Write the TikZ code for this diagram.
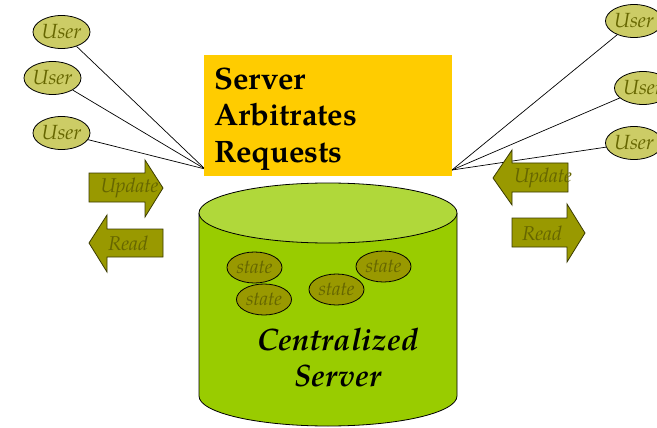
\documentclass[tikz,border=0pt]{standalone}
\usepackage{fontspec}
\setmainfont{TeX Gyre Pagella}
\usetikzlibrary{shapes.geometric}
\definecolor{userfill}{HTML}{CCCC66}
\definecolor{olivefill}{HTML}{999900}
\definecolor{olivetext}{HTML}{666600}
\definecolor{oliveline}{HTML}{3A3A00}
\definecolor{boxyellow}{HTML}{FFCC00}
\definecolor{cyltop}{HTML}{B0D83A}
\definecolor{cylbody}{HTML}{99CC00}
\begin{document}
\begin{tikzpicture}[x=1pt,y=-1pt,
  user/.style={ellipse, draw=black, line width=0.8pt, fill=userfill,
    minimum width=57pt, minimum height=33pt, inner sep=0pt,
    font=\fontsize{20.5}{22}\selectfont\itshape, text=olivetext},
  statenode/.style={ellipse, draw=black, line width=0.8pt, fill=olivefill,
    minimum width=55pt, minimum height=31pt, inner sep=0pt,
    font=\fontsize{19.5}{21}\selectfont\itshape, text=olivetext},
  fatarrow/.style={draw=oliveline, line width=0.8pt, fill=olivefill},
  arrowlabel/.style={inner sep=0pt, font=\fontsize{20}{22}\selectfont\itshape, text=olivetext},
  boxline/.style={anchor=base west, inner sep=0pt, font=\fontsize{31}{36}\selectfont\bfseries},
  link/.style={draw=black, line width=0.7pt}]

% canvas
\fill[white] (0,0) rectangle (657,428);
\useasboundingbox (0,0) rectangle (657,428);

% meeting points of the user links
\coordinate (hubL) at (205,169);
\coordinate (hubR) at (452,170);

% users
\node[user] (uL1) at (61.5,32) {User};
\node[user] (uL2) at (52.5,78) {User};
\node[user] (uL3) at (61.5,133) {User};
\node[user] (uR1) at (634,21) {User};
\node[user] (uR2) at (643,88) {User};
\node[user] (uR3) at (634,143) {User};

% links from users to the arbiter
\foreach \u in {uL1,uL2,uL3} \draw[link] (\u) -- (hubL);
\foreach \u in {uR1,uR2,uR3} \draw[link] (\u) -- (hubR);

% arbiter box
\fill[boxyellow] (204,55) rectangle (452,176);
\node[boxline] (arb1) at (214,90) {Server};
\node[boxline] (arb2) at (214,126) {Arbitrates};
\node[boxline] (arb3) at (214,162) {Requests};

% update / read arrows, left side
\draw[fatarrow] (89,173) -- (145,173) -- (145,160) -- (163,188) -- (145,217) -- (145,202) -- (89,202) -- cycle;
\node[arrowlabel] (updL) at (129.5,188) {Update};
\draw[fatarrow] (163,229) -- (107,229) -- (107,215) -- (89,243) -- (107,272) -- (107,257) -- (163,257) -- cycle;
\node[arrowlabel] (readL) at (128,243) {Read};

% update / read arrows, right side
\draw[fatarrow] (568,163) -- (512,163) -- (512,150) -- (493,178) -- (512,205) -- (512,192) -- (568,192) -- cycle;
\node[arrowlabel] (updR) at (543,178) {Update};
\draw[fatarrow] (512,218) -- (567,218) -- (567,204) -- (585,233) -- (567,262) -- (567,247) -- (512,247) -- cycle;
\node[arrowlabel] (readR) at (542,233) {Read};

% centralized server cylinder
\draw[fill=cylbody, line width=0.8pt] (199,213) -- (199,396)
  arc[start angle=180, end angle=360, x radius=129, y radius=-30]
  -- (457,213);
\draw[fill=cyltop, line width=0.8pt] (328,213) ellipse[x radius=129, y radius=30];

% state held by the server
\node[statenode] (s1) at (254.5,267.5) {state};
\node[statenode] (s2) at (264,299.5) {state};
\node[statenode] (s3) at (336.5,289.5) {state};
\node[statenode] (s4) at (383.5,266.5) {state};

\node[align=center, inner sep=0pt,
  font=\fontsize{31}{36}\selectfont\bfseries\itshape] (cs) at (338,358)
  {Centralized\\Server};
\end{tikzpicture}
\end{document}
